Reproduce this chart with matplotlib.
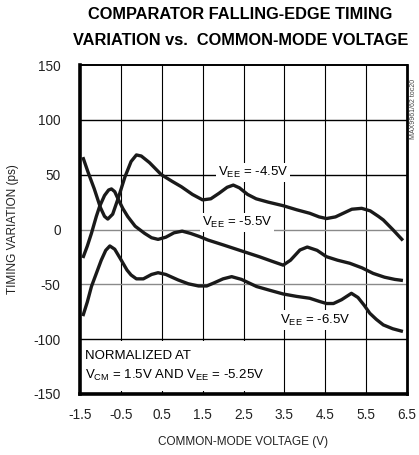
import matplotlib
matplotlib.use('Agg')
import matplotlib.pyplot as plt
from matplotlib.patches import Rectangle

plt.rcParams['font.family'] = ['Liberation Sans', 'DejaVu Sans']

# --- datos (ps vs V) ---
x_45 = [-1.43, -1.3, -1.15, -1.0, -0.9, -0.82, -0.7, -0.57, -0.4, -0.25, -0.12, 0.0, 0.2,
        0.49, 0.75, 0.98, 1.25, 1.5, 1.7, 1.9, 2.1, 2.25, 2.4, 2.6, 2.81, 3.1, 3.47, 3.8,
        4.12, 4.35, 4.53, 4.75, 4.95, 5.15, 5.39, 5.6, 5.8, 5.92, 6.15, 6.4]
y_45 = [66, 52, 37, 20, 12, 9.5, 14, 28, 48, 62, 68, 67, 61,
        50, 44, 39, 32, 27, 28, 33, 38.5, 40.5, 38, 32, 28, 25, 21.7, 18,
        14.8, 11.5, 10, 11.5, 15, 18.5, 19.3, 17, 12, 8.7, 0, -10]

x_55 = [-1.43, -1.32, -1.22, -1.1, -1.02, -0.9, -0.8, -0.73, -0.65, -0.57, -0.45, -0.33,
        -0.15, 0.08, 0.25, 0.41, 0.6, 0.8, 1.0, 1.2, 1.43, 1.63, 2.0, 2.49, 2.9, 3.2,
        3.47, 3.65, 3.88, 4.06, 4.3, 4.53, 4.8, 5.1, 5.4, 5.67, 5.95, 6.2, 6.4]
y_55 = [-26, -15, -3.5, 12, 21, 31, 36, 37, 34.5, 28, 19, 11.7,
        3, -3.5, -7.5, -9, -7, -3, -1.5, -3.5, -6.5, -9.6, -14, -20, -25, -29,
        -32.5, -28, -18.7, -16, -19, -24.8, -28, -30.8, -35, -40, -43.5, -45.5, -46.5]

x_65 = [-1.43, -1.32, -1.22, -1.1, -0.98, -0.87, -0.77, -0.65, -0.49, -0.35, -0.25, -0.12,
        0.05, 0.25, 0.41, 0.6, 0.9, 1.15, 1.4, 1.6, 1.76, 2.0, 2.21, 2.45, 2.82, 3.15,
        3.47, 3.8, 4.12, 4.35, 4.53, 4.7, 4.9, 5.14, 5.3, 5.45, 5.59, 5.75, 5.92, 6.15, 6.4]
y_65 = [-79, -66, -52, -40, -28, -19, -15, -18, -28, -37, -41.5, -45,
        -45, -41, -39.4, -41, -46, -49.5, -51.5, -51.5, -49, -45, -43, -45.5, -52, -55.5,
        -58.8, -61, -62.7, -65.5, -67.5, -67.5, -64, -58.2, -62, -69, -76.4, -82, -87, -90.5, -93]

x_ticks = [-1.5, -0.5, 0.5, 1.5, 2.5, 3.5, 4.5, 5.5, 6.5]
x_tick_labels = ['-1.5', '-0.5', '0.5', '1.5', '2.5', '3.5', '4.5', '5.5', '6.5']
y_ticks = [-150, -100, -50, 0, 50, 100, 150]
y_tick_labels = ['-150', '-100', '-50', '0', '50', '100', '150']

fig = plt.figure(figsize=(4.19, 4.55), dpi=100)
ax = fig.add_axes([0.1909, 0.1341, 0.7805, 0.7230])

# rejilla: verticales negras, horizontales 0 y -50 en gris
for xv in x_ticks[1:-1]:
    ax.axvline(xv, color='black', lw=0.8, zorder=0.5)
for yv in y_ticks[1:-1]:
    col = '#8a8a8a' if yv in (0, -50) else 'black'
    ax.axhline(yv, color=col, lw=1.0, zorder=0.5)

# caja blanca de la nota de normalización (tapa la rejilla)
ax.add_patch(Rectangle((-1.5, -147), 4.95, 45.5, facecolor='white', edgecolor='none', zorder=1))

for xs, ys in [(x_45, y_45), (x_55, y_55), (x_65, y_65)]:
    ax.plot(xs, ys, color='#1a1a1a', lw=2.4, solid_capstyle='butt', zorder=3)

lbl_kw = dict(fontsize=9.5, ha='center', va='center', zorder=2,
              bbox=dict(facecolor='white', edgecolor='none', pad=1.5))
ax.text(2.73, 52, r'V$_{\mathregular{EE}}$ = -4.5V', **lbl_kw)
ax.text(2.34, 6.5, r'V$_{\mathregular{EE}}$ = -5.5V', **lbl_kw)
ax.text(4.25, -82.5, r'V$_{\mathregular{EE}}$ = -6.5V', **lbl_kw)

ax.text(-1.37, -115, 'NORMALIZED AT', fontsize=9.5, ha='left', va='center', zorder=2)
ax.text(-1.37, -133, r'V$_{\mathregular{CM}}$ = 1.5V AND V$_{\mathregular{EE}}$ = -5.25V',
        fontsize=9.5, ha='left', va='center', zorder=2)

ax.set_xlim(-1.5, 6.5)
ax.set_ylim(-150, 150)
ax.set_xticks(x_ticks)
ax.set_xticklabels(x_tick_labels)
ax.set_yticks(y_ticks)
ax.set_yticklabels(y_tick_labels)
ax.tick_params(length=0, labelsize=9.8, colors='#222222')
ax.tick_params(axis='y', pad=14)
ax.tick_params(axis='x', pad=10)

ax.spines['left'].set_linewidth(2.6)
ax.spines['bottom'].set_linewidth(2.6)
ax.spines['right'].set_linewidth(2.0)
ax.spines['top'].set_linewidth(1.4)

ax.set_xlabel('COMMON-MODE VOLTAGE (V)', fontsize=8.5, labelpad=10, color='#222222')
ax.set_ylabel('TIMING VARIATION (ps)', fontsize=8.5, labelpad=10, color='#222222')

fig.text(0.573, 0.969, 'COMPARATOR FALLING-EDGE TIMING', fontsize=11.8, fontweight='bold',
         ha='center', va='center')
fig.text(0.575, 0.912, 'VARIATION vs.  COMMON-MODE VOLTAGE', fontsize=11.8, fontweight='bold',
         ha='center', va='center')
fig.text(0.986, 0.76, 'MAX9961/62 toc20', fontsize=5, rotation=90, ha='center', va='center',
         color='#444444')

fig.savefig('out.png', dpi=100)
